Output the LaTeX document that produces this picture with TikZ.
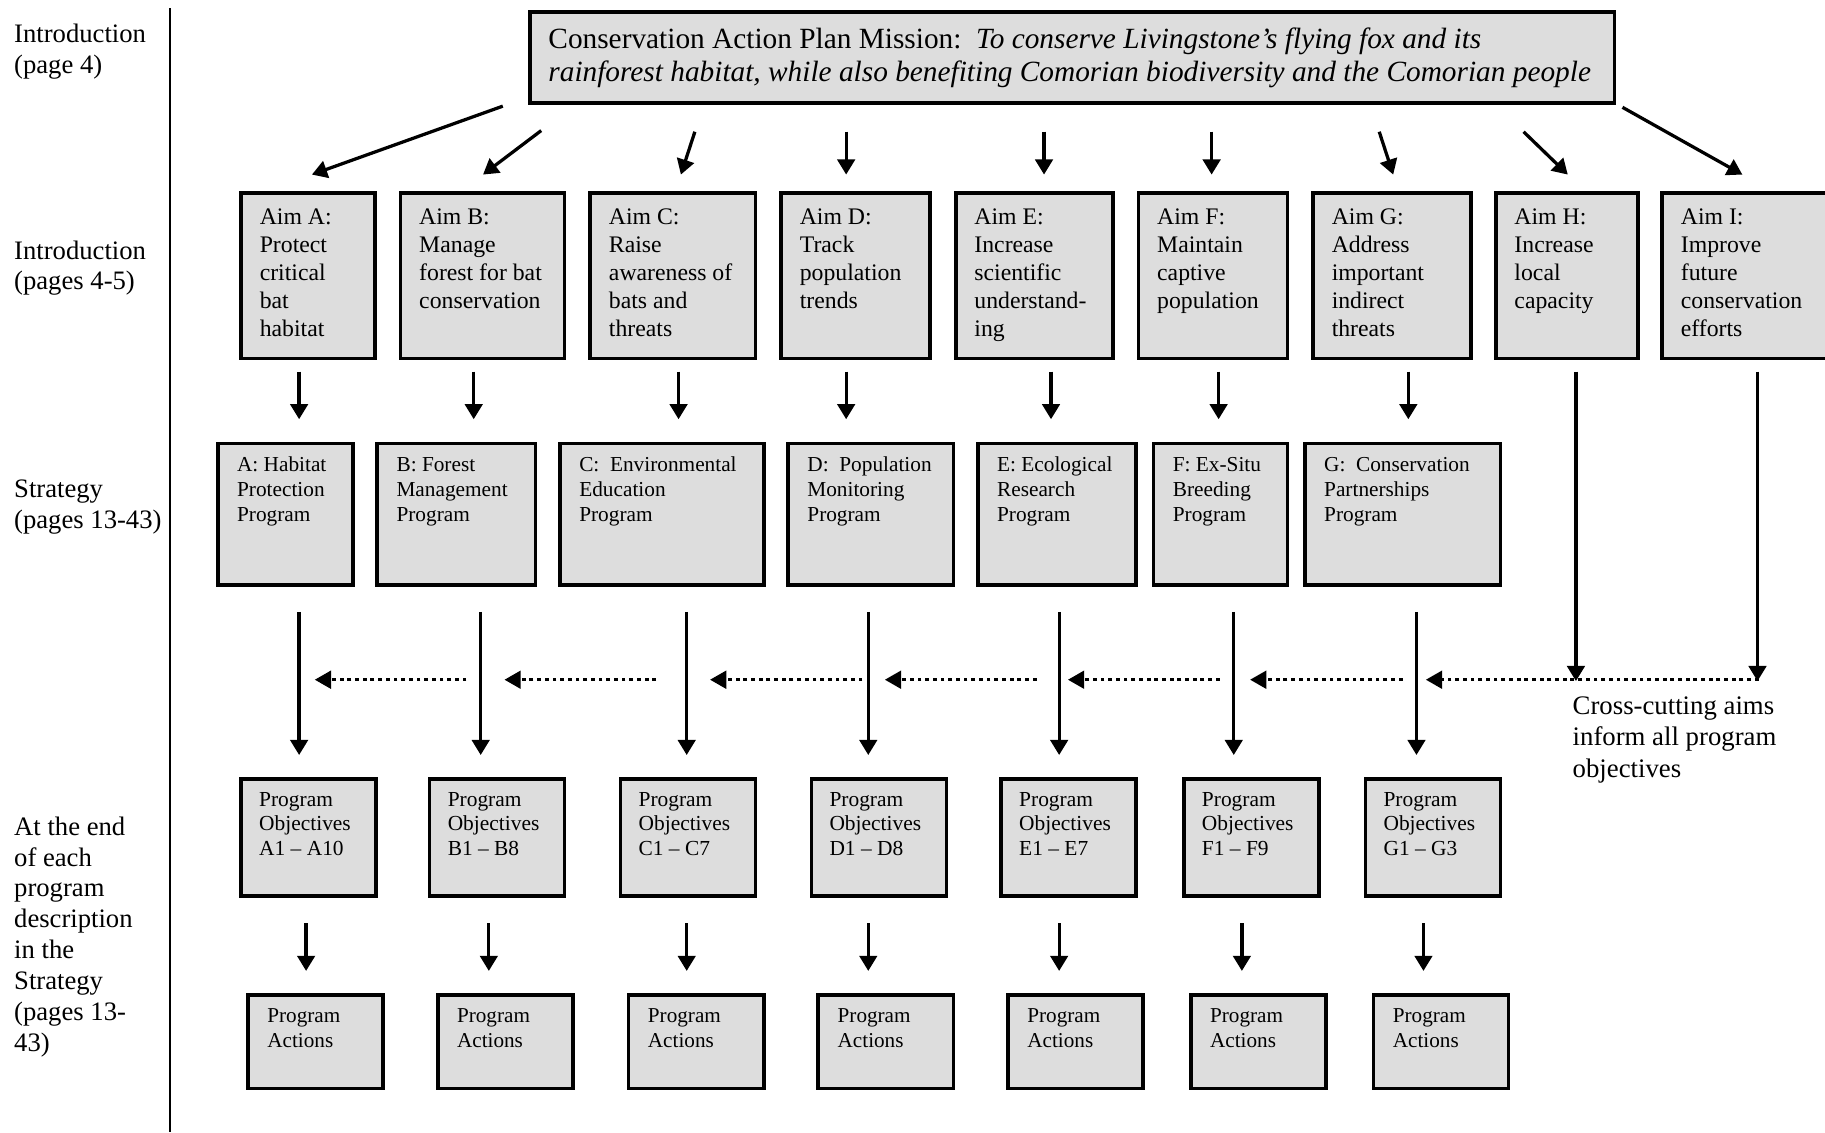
\documentclass[tikz,border=0pt]{standalone}
\usepackage{fontspec}
\setmainfont{Liberation Serif}
\usepackage{xcolor}
\usepackage{tikz}
\usetikzlibrary{arrows.meta}

\definecolor{boxgray}{RGB}{221,221,221}

\begin{document}
\begin{tikzpicture}[x=1pt, y=-1pt,
  box/.style={draw, line width=3.2pt, fill=boxgray, anchor=north west, inner sep=0pt},
  misstxt/.style={anchor=north west, align=left, inner xsep=17.5pt, inner ysep=15pt, font=\fontsize{25.2}{29}\selectfont},
  aimtxt/.style={anchor=north west, align=left, inner xsep=17.5pt, inner ysep=15pt, font=\fontsize{20.4}{23.9}\selectfont},
  progtxt/.style={anchor=north west, align=left, inner xsep=18pt, inner ysep=13pt, font=\fontsize{18.3}{21.5}\selectfont},
  objtxt/.style={anchor=north west, align=left, inner xsep=17pt, inner ysep=13pt, font=\fontsize{18.4}{21.2}\selectfont},
  acttxt/.style={anchor=north west, align=left, inner xsep=18pt, inner ysep=13.5pt, font=\fontsize{18.2}{21.5}\selectfont},
  lbl/.style={anchor=north west, align=left, inner sep=0pt, font=\fontsize{22.9}{26.5}\selectfont},
  arr/.style={line width=2.8pt, -{Triangle[length=13pt, width=15pt]}},
  dotarr/.style={line width=3pt, dash pattern=on 3.3pt off 3.3pt, -{Triangle[length=14pt, width=15pt]}}]

\useasboundingbox (0,0) rectangle (1568,973);

% Level labels on the left
\node[lbl] (introA) at (12,20.5) {Introduction\\(page 4)};
\node[lbl] (introB) at (12,206.5) {Introduction\\(pages 4-5)};
\node[lbl] (strategy) at (12,412.5) {Strategy\\(pages 13-43)};
\node[lbl] (endnote) at (12,701.5) {At the end\\of each\\program\\description\\in the\\Strategy\\(pages 13-\\43)};
\draw[line width=1.4pt] (146,7) -- (146,973);

% Mission
\node[box, minimum width=932pt, minimum height=78.5pt,
  label={[misstxt]north west:{Conservation Action Plan Mission:\ \ \textit{To conserve Livingstone’s flying fox and its}\\\textit{rainforest habitat, while also benefiting Comorian biodiversity and the Comorian people}}}]
  (mission) at (453.5,8.5) {};

% Aims
\foreach \n/\x/\w/\t in {
  A/205.5/115/{Aim A:\\Protect\\critical\\bat\\habitat},
  B/342.5/141/{Aim B:\\Manage\\forest for bat\\conservation},
  C/505.5/142/{Aim C:\\Raise\\awareness of\\bats and\\threats},
  D/669.5/128/{Aim D:\\Track\\population\\trends},
  E/819.5/135/{Aim E:\\Increase\\scientific\\understand-\\ing},
  F/976.5/128/{Aim F:\\Maintain\\captive\\population},
  G/1126.5/136/{Aim G:\\Address\\important\\indirect\\threats},
  H/1283.5/122/{Aim H:\\Increase\\local\\capacity},
  I/1426.5/170/{Aim I:\\Improve\\future\\conservation\\efforts}} {
  \node[box, minimum width=\w pt, minimum height=142pt,
    label={[aimtxt]north west:\t}] (aim\n) at (\x,164.5) {};
}

% Programs
\foreach \n/\x/\w/\t in {
  A/185.5/116/{A: Habitat\\Protection\\Program},
  B/322.5/136/{B: Forest\\Management\\Program},
  C/479.5/175/{C:\ \ Environmental\\Education\\Program},
  D/675.5/142/{D:\ \ Population\\Monitoring\\Program},
  E/838.5/136/{E: Ecological\\Research\\Program},
  F/989.5/115/{F: Ex-Situ\\Breeding\\Program},
  G/1119.5/168/{G:\ \ Conservation\\Partnerships\\Program}} {
  \node[box, minimum width=\w pt, minimum height=121.5pt,
    label={[progtxt]north west:\t}] (prog\n) at (\x,379.5) {};
}

% Program objectives and actions
\foreach \n/\x/\k/\ax in {A/205.5/10/211.5, B/367.5/8/374.5, C/531.5/7/538.5,
    D/695.5/8/701.5, E/858.5/7/864.5, F/1015.5/9/1021.5, G/1171.5/3/1178.5} {
  \node[box, minimum width=116pt, minimum height=101pt,
    label={[objtxt]north west:{Program\\Objectives\\\n1 -- \n\k}}] (obj\n) at (\x,667.5) {};
  \node[box, minimum width=116pt, minimum height=80.5pt,
    label={[acttxt]north west:{Program\\Actions}}] (act\n) at (\ax,853) {};
}

% Mission to aims
\foreach \n/\sx/\sy/\tx in {A/-21.5/1/62.5, B/11.5/22/72.5, C/143.5/23/79.5,
    D/273.5/23/57.5, E/443.5/23/77.5, F/587.5/23/64.5, G/731.5/23/70.5,
    H/855.5/23/63.5, I/940.5/2/70.5}
  \draw[arr] ([shift={(\sx,\sy)}]mission.south west) -- ([shift={(\tx,-14.5)}]aim\n.north west);

% Aims to programs
\foreach \n/\dx in {A/51.5, B/64.5, C/77.5, D/57.5, E/83.5, F/70.5, G/83.5}
  \draw[arr] ([shift={(\dx,9.5)}]aim\n.south west) -- ++(0,41);

% Cross-cutting aims
\foreach \n/\dx in {H/70.5, I/83.5}
  \draw[arr] ([shift={(\dx,9.5)}]aim\n.south west) -- ++(0,266);

% Programs to objectives
\foreach \n/\dx in {A/71.5, B/90.5, C/110.5, D/70.5, E/71.5, F/70.5, G/97.5}
  \draw[arr] ([shift={(\dx,21.5)}]prog\n.south west) -- ++(0,123);

% Objectives to actions
\foreach \n/\dx in {A/57.5, B/52.5, C/58.5, D/50.5, E/51.5, F/51.5, G/51.5}
  \draw[arr] ([shift={(\dx,21.5)}]obj\n.south west) -- ++(0,41);

% Dotted arrows running right to left
\foreach \a/\b [count=\i] in {400.8/270.4, 563.8/433.4, 741/610, 890.6/760.2,
    1047.9/917.5, 1205/1074, 1511/1225} {
  \coordinate (dotS\i) at (\a,584);
  \coordinate (dotE\i) at (\b,584);
  \draw[dotarr] (dotS\i) -- (dotE\i);
}

\node[lbl, font=\fontsize{23}{27}\selectfont] (crosscut) at (1351,598.5)
  {Cross-cutting aims\\inform all program\\objectives};

\end{tikzpicture}
\end{document}
